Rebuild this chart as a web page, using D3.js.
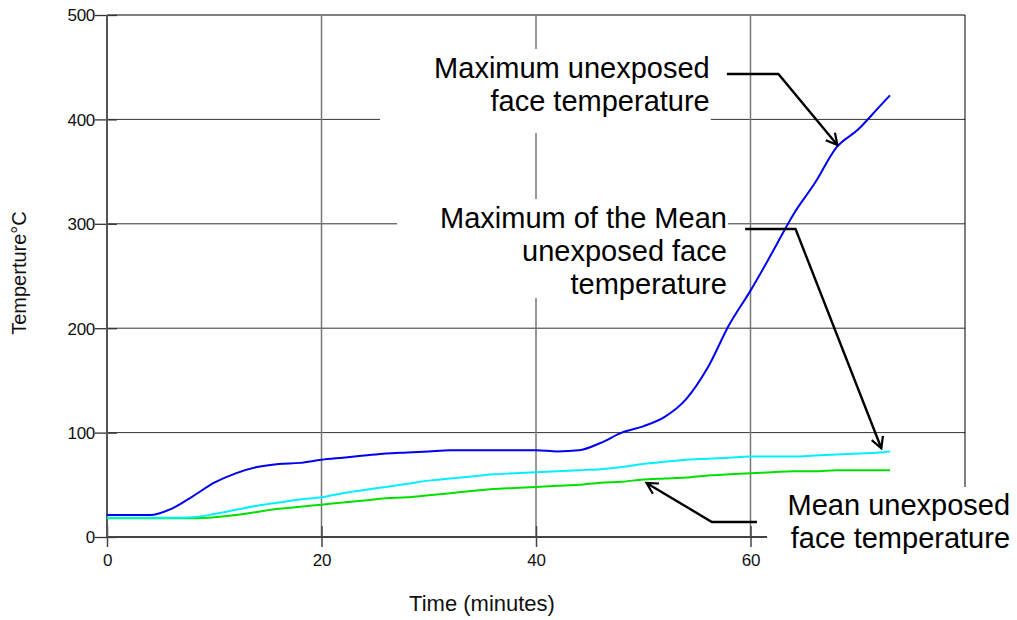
<!DOCTYPE html>
<html>
<head>
<meta charset="utf-8">
<script src="https://cdn.jsdelivr.net/npm/d3@7"></script>
<style>
body { margin: 0; background: #fff; }
text { font-family: "Liberation Sans", Arial, sans-serif; }
</style>
</head>
<body>
<div id="chart-area"></div>
<script>
// time in minutes
var minutes = [0, 2, 4, 6, 8, 10, 12, 14, 16, 18, 20, 22, 24, 26, 28, 30, 32, 34, 36, 38,
    40, 42, 44, 46, 48, 50, 52, 54, 56, 58, 60, 62, 64, 66, 68, 70, 72, 73];

// maximum unexposed face temperature (blue)
var maxTemp = [21, 21, 21, 27, 39, 52, 61, 67, 70, 71, 74, 76, 78, 80, 81, 82, 83, 83, 83, 83,
    83, 82, 83, 90, 100, 106, 115, 132, 162, 203, 236, 272, 309, 339, 373, 390, 412, 423];

// maximum of the mean (cyan)
var maxMeanTemp = [18.5, 18.5, 18.5, 18.5, 19, 22, 26, 30, 33, 36, 38, 42, 45, 48, 51, 54, 56, 58, 60, 61,
    62, 63, 64, 65, 67, 70, 72, 74, 75, 76, 77, 77, 77, 78, 79, 80, 81, 82];

// mean unexposed face temperature (green)
var meanTemp = [18, 18, 18, 18, 18, 19, 21, 24, 27, 29, 31, 33, 35, 37, 38, 40, 42, 44, 46, 47,
    48, 49, 50, 52, 53, 55, 56, 57, 59, 60, 61, 62, 63, 63, 64, 64, 64, 64];

var yTicks = [0, 100, 200, 300, 400, 500];
var xTicks = [0, 20, 40, 60];
var xLabels = ["0", "20", "40", "60"];

var margin = { top: 15, right: 52, bottom: 83, left: 107 };
var width = 1017 - margin.left - margin.right;
var height = 620 - margin.top - margin.bottom;

var svg = d3.select("#chart-area")
    .append("svg")
    .attr("width", 1017)
    .attr("height", 620);

var g = svg.append("g")
    .attr("transform", `translate(${margin.left}, ${margin.top})`);

var x = d3.scaleLinear().domain([0, 80]).range([0, width]);
var y = d3.scaleLinear().domain([0, 500]).range([height, 0]);

// grid
g.selectAll(".hgrid")
    .data(yTicks.slice(1))
    .enter()
    .append("line")
    .attr("x1", 0)
    .attr("x2", width)
    .attr("y1", d => y(d))
    .attr("y2", d => y(d))
    .attr("stroke", d => d === 500 ? "#000" : "#333")
    .attr("stroke-width", 1);

g.selectAll(".vgrid")
    .data(xTicks.slice(1))
    .enter()
    .append("line")
    .attr("x1", d => x(d))
    .attr("x2", d => x(d))
    .attr("y1", 0)
    .attr("y2", height)
    .attr("stroke", "#777")
    .attr("stroke-width", 1.5);

g.append("line")
    .attr("x1", x(80)).attr("x2", x(80))
    .attr("y1", 0).attr("y2", height)
    .attr("stroke", "#000")
    .attr("stroke-width", 1);

// axes
var yAxis = g.append("g")
    .call(d3.axisLeft(y).tickValues(yTicks).tickSize(12).tickPadding(0));
yAxis.select(".domain").remove();
yAxis.selectAll("line").attr("x1", 10).attr("x2", -12).attr("stroke", "#333").attr("stroke-width", 1.3);
yAxis.selectAll("text")
    .attr("x", -12)
    .attr("dy", "0.35em")
    .attr("font-size", "17px")
    .attr("letter-spacing", "-0.3px")
    .attr("fill", "#111");

var xAxis = g.append("g")
    .attr("transform", `translate(0, ${height})`)
    .call(d3.axisBottom(x).tickValues(xTicks).tickFormat((d, i) => xLabels[i]).tickSize(10));
xAxis.select(".domain").remove();
xAxis.selectAll("line").attr("y1", -11).attr("y2", 10).attr("stroke", "#444").attr("stroke-width", 1.5);
xAxis.selectAll("text")
    .attr("y", 29)
    .attr("dy", 0)
    .attr("font-size", "17px")
    .attr("letter-spacing", "-0.3px")
    .attr("fill", "#111");

g.append("line")
    .attr("x1", 0).attr("x2", width)
    .attr("y1", height).attr("y2", height)
    .attr("stroke", "#444").attr("stroke-width", 2);
g.append("line")
    .attr("x1", 0).attr("x2", 0)
    .attr("y1", 0).attr("y2", height)
    .attr("stroke", "#555").attr("stroke-width", 2);

// axis titles
svg.append("text")
    .attr("x", 482)
    .attr("y", 611)
    .attr("text-anchor", "middle")
    .attr("font-size", "22px")
    .attr("fill", "#111")
    .text("Time (minutes)");

svg.append("text")
    .attr("transform", "rotate(-90)")
    .attr("x", -273)
    .attr("y", 26)
    .attr("text-anchor", "middle")
    .attr("font-size", "20px")
    .attr("fill", "#111")
    .text("Temperture°C");

// annotation text frames (in data units)
var notes = [
    { lines: ["Maximum unexposed", "face temperature"], tx: 56.2, ty: 439.5,
      box: [25.45, 467.4, 56.3, 387], arrow: [[57.8, 443.5], [62.6, 443.5], [68.1, 375.5]] },
    { lines: ["Maximum of the Mean", "unexposed face", "temperature"], tx: 57.8, ty: 296,
      box: [27.05, 323.8, 57.9, 228.9], arrow: [[59.5, 295], [64.2, 295], [72.2, 85]] },
    { lines: ["Mean unexposed", "face temperature"], tx: 84.2, ty: 21.1,
      box: [61.55, 47.9, 85.5, -35], arrow: [[60.6, 14.4], [56.4, 14.4], [50.3, 51.7]] }
];

g.selectAll(".frame")
    .data(notes)
    .enter()
    .append("rect")
    .attr("x", d => x(d.box[0]))
    .attr("y", d => y(d.box[1]))
    .attr("width", d => x(d.box[2]) - x(d.box[0]))
    .attr("height", d => y(d.box[3]) - y(d.box[1]))
    .attr("fill", "#fff");

// series
var series = [
    { values: maxTemp, color: "#0000ee" },
    { values: maxMeanTemp, color: "#00f0ff" },
    { values: meanTemp, color: "#00e000" }
];

var line = d3.line()
    .x(d => x(d[0]))
    .y(d => y(d[1]))
    .curve(d3.curveMonotoneX);

g.selectAll(".series")
    .data(series.slice().reverse())
    .enter()
    .append("path")
    .attr("fill", "none")
    .attr("stroke", d => d.color)
    .attr("stroke-width", 2)
    .attr("d", d => line(minutes.map((m, i) => [m, d.values[i]])));

// arrows
svg.append("defs")
    .append("marker")
    .attr("id", "head")
    .attr("viewBox", "0 0 14 14")
    .attr("refX", 12)
    .attr("refY", 7)
    .attr("markerWidth", 14)
    .attr("markerHeight", 14)
    .attr("markerUnits", "userSpaceOnUse")
    .attr("orient", "auto")
    .append("path")
    .attr("d", "M1,1 L12,7 L1,13")
    .attr("fill", "none")
    .attr("stroke", "#000")
    .attr("stroke-width", 2.2);

var arrowLine = d3.line().x(d => x(d[0])).y(d => y(d[1]));

g.selectAll(".arrow")
    .data(notes)
    .enter()
    .append("path")
    .attr("fill", "none")
    .attr("stroke", "#000")
    .attr("stroke-width", 2.4)
    .attr("marker-end", "url(#head)")
    .attr("d", d => arrowLine(d.arrow));

// annotation text
notes.forEach(n => {
    var t = g.append("text")
        .attr("text-anchor", "end")
        .attr("font-size", "29px")
        .attr("fill", "#000");
    n.lines.forEach((l, i) => {
        t.append("tspan")
            .attr("x", x(n.tx))
            .attr("y", y(n.ty) + i * 33)
            .text(l);
    });
});
</script>
</body>
</html>
